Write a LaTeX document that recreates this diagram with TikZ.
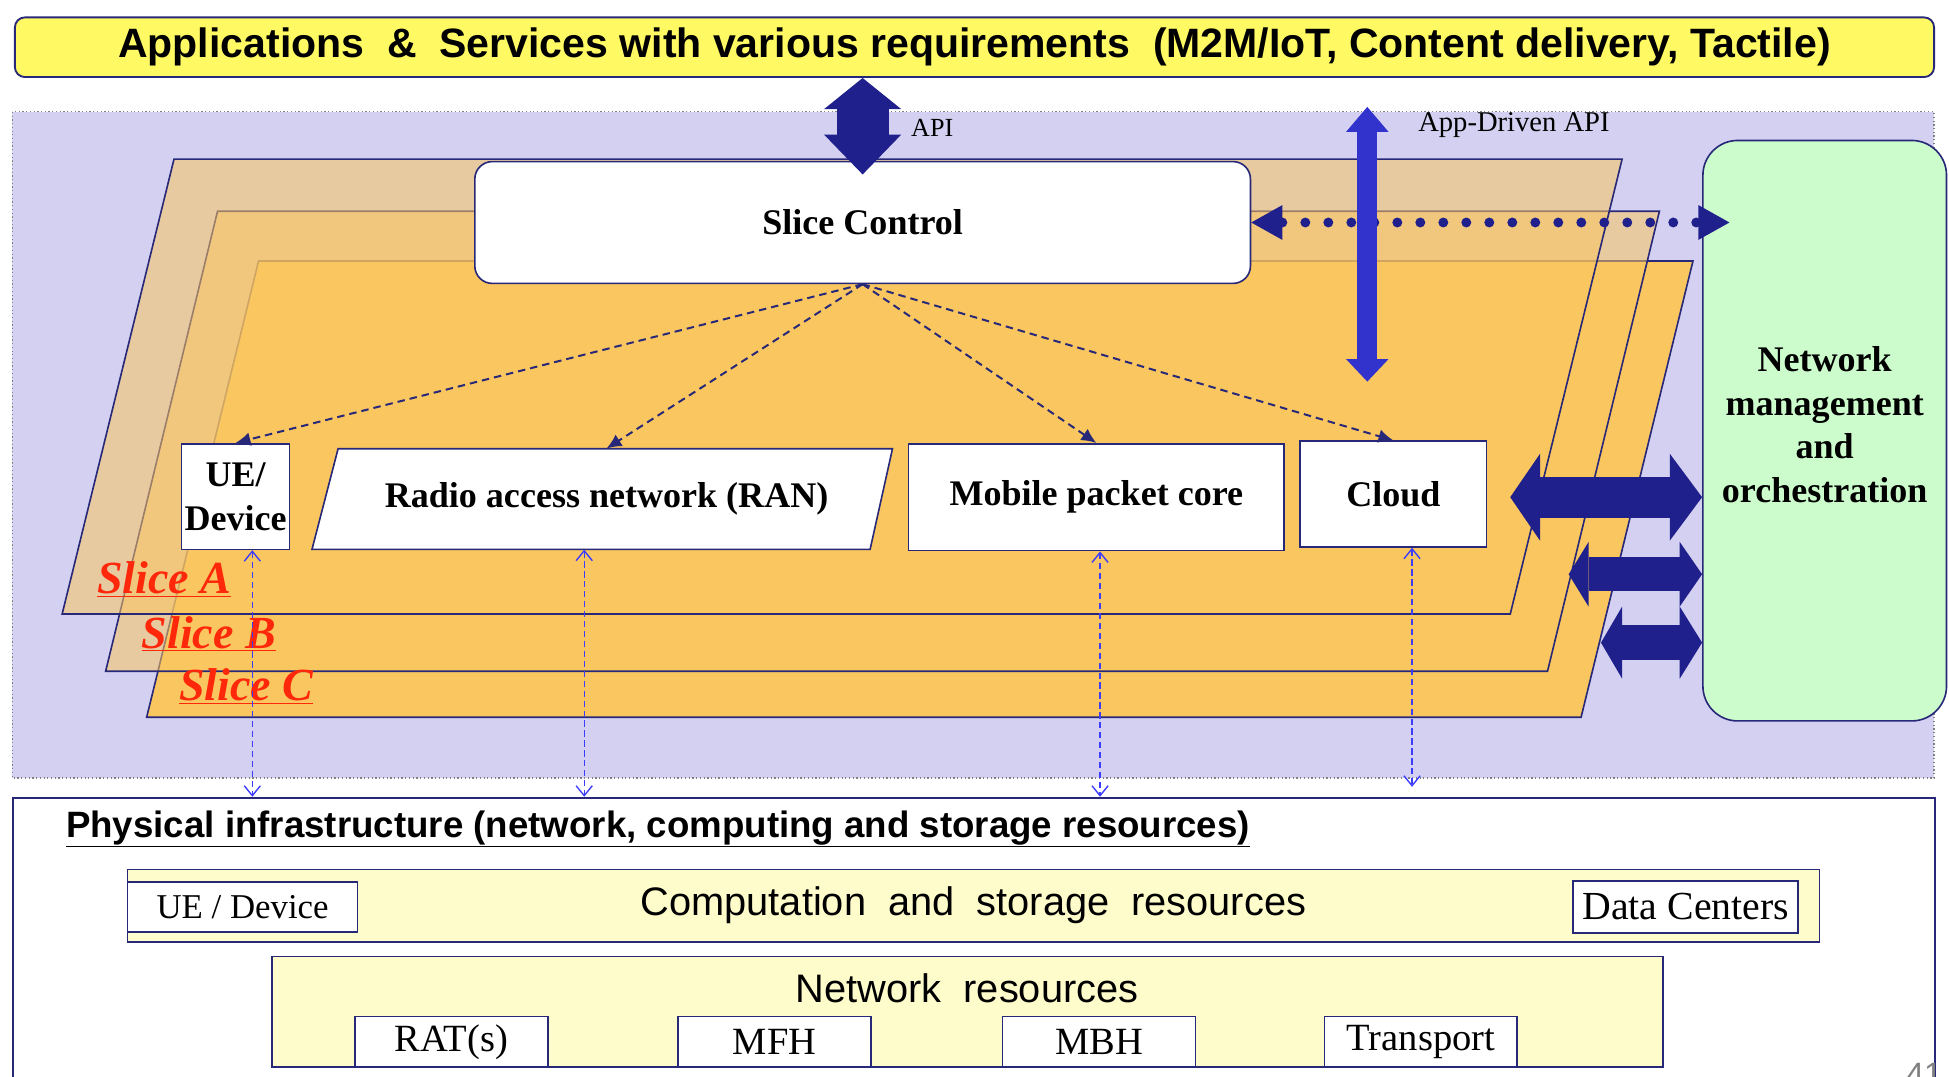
\documentclass[tikz,border=0pt]{standalone}
\usepackage{fontspec}
\setmainfont{Liberation Serif}
\setsansfont{Liberation Sans}
\usetikzlibrary{arrows.meta,positioning}

\definecolor{appyellow}{RGB}{255,250,100}
\definecolor{lavender}{RGB}{211,208,241}
\definecolor{sliceorange}{RGB}{250,198,96}
\definecolor{nmogreen}{RGB}{204,252,204}
\definecolor{paleyellow}{RGB}{255,252,204}
\definecolor{linenavy}{RGB}{40,40,120}
\definecolor{arrownavy}{RGB}{32,32,140}
\definecolor{appblue}{RGB}{50,50,204}
\definecolor{physblue}{RGB}{60,60,255}
\definecolor{slicered}{RGB}{255,40,10}

\begin{document}
\begin{tikzpicture}[x=1pt, y=-1pt,
    box/.style={draw=linenavy, line width=1.3pt, fill=white, inner sep=0pt, align=center},
    bold/.style={font=\fontsize{29}{35}\selectfont\bfseries},
    slice/.style={draw=linenavy, line width=1.3pt, fill=sliceorange},
    slicename/.style={text=slicered, font=\fontsize{37}{40}\selectfont\bfseries\itshape},
    fan/.style={draw=linenavy, line width=1.6pt, dash pattern=on 6pt off 4pt, -{Latex[length=12pt, width=11pt]}},
    phy/.style={draw=physblue, line width=1.1pt, dash pattern=on 5pt off 3pt,
      {Straight Barb[length=8pt, width=13pt]}-{Straight Barb[length=8pt, width=13pt]}},
    fat/.style={draw=arrownavy, line width=#1},
    hw/.style={box, minimum width=155pt, minimum height=41pt, anchor=north west, font=\fontsize{31}{36}\selectfont}
  ]

    \def \slant {90}
    \useasboundingbox (0,0) rectangle (1568,866);

    % top layer
    \node[draw=linenavy, line width=1.5pt, fill=appyellow, rounded corners=8pt, inner sep=0pt,
      minimum width=1544pt, minimum height=48pt, font=\sffamily\bfseries\fontsize{33}{36}\selectfont]
      (apps) at (784,38) {Applications \ \& \ Services with various requirements \ (M2M/IoT, Content delivery, Tactile)};

    % background of the slice area
    \draw[fill=lavender, draw=gray, dotted, line width=1pt] (10,90) rectangle (1556,626);

    % draw the slices, back to front
    \foreach \ya/\yb/\xa/\wd/\op in {210/577/208/1154/1, 170/540/175/1160/0.55, 128/494/140/1165/0.55}
      \filldraw[slice, fill opacity=\op] (\xa,\ya) -- ++(\wd,0) -- ++(-\slant,{\yb-\ya}) -- ++(-\wd,0) -- cycle;
    \node[slicename] (nameA) at (132,466) {\underline{Slice A}};
    \node[slicename] (nameB) at (168,510) {\underline{Slice B}};
    \node[slicename] (nameC) at (198,552) {\underline{Slice C}};

    % control and management
    \node[box, bold, rounded corners=14pt, minimum width=624pt, minimum height=98pt] (ctrl) at (694,179) {Slice Control};
    \node[box, bold, fill=nmogreen, rounded corners=28pt, minimum width=196pt, minimum height=467pt,
      text depth=10pt] (nmo) at (1468,346.5) {Network\\management\\and\\orchestration};

    % slice components
    \node[box, bold, minimum width=87pt, minimum height=85pt] (ue) at (189.5,399.5) {UE/\\Device};
    \filldraw[box] (272,361) -- (718,361) -- (700,442) -- (251,442) -- cycle;
    \node[bold, inner sep=0pt, minimum width=446pt, minimum height=81pt] (ran) at (488,401.5) {Radio access network (RAN)};
    \node[box, bold, minimum width=302pt, minimum height=86pt] (mpc) at (882,400) {Mobile packet core};
    \node[box, bold, minimum width=150pt, minimum height=85pt] (cloud) at (1121,397.5) {Cloud};

    \foreach \nd in {ue, ran, mpc, cloud}
      \draw[fan] (ctrl.south) -- (\nd.north);

    % interfaces
    \draw[fat=42pt, {Triangle[length=25pt, width=62pt, line width=0pt]}-{Triangle[length=32pt, width=62pt, line width=0pt]},
      shorten >=-11pt] (ctrl.north |- apps.south) -- (ctrl.north);
    \node[font=\fontsize{21}{24}\selectfont] (api) at (750,103) {API};

    \draw[draw=arrownavy, line width=8pt, line cap=round, dash pattern=on 0pt off 18.5pt,
      {Triangle[length=25pt, width=28pt, line width=0pt]}-{Triangle[length=25pt, width=28pt, line width=0pt]},
      shorten >=-22pt] (ctrl.east) -- (ctrl.east -| nmo.west);

    \coordinate (apptop) at (1100,86);
    \coordinate (appbot) at (1100,307);
    \draw[draw=appblue, line width=16pt, {Triangle[length=20pt, width=34pt, line width=0pt]}-{Triangle[length=18pt, width=34pt, line width=0pt]}]
      (apptop) -- (appbot);
    \node[font=\fontsize{23}{26}\selectfont] (appapi) at (1218,101) {App-Driven API};

    \coordinate (tipA) at (1215,400);
    \coordinate (tipB) at (1262,462);
    \coordinate (tipC) at (1288,517);
    \draw[fat=33pt, {Triangle[length=24pt, width=70pt, line width=0pt]}-{Triangle[length=26pt, width=70pt, line width=0pt]}]
      (tipA) -- (tipA -| nmo.west);
    \draw[fat=27pt, {Triangle[length=16pt, width=52pt, line width=0pt]}-{Triangle[length=18pt, width=52pt, line width=0pt]}]
      (tipB) -- (tipB -| nmo.west);
    \draw[fat=28pt, {Triangle[length=17pt, width=58pt, line width=0pt]}-{Triangle[length=18pt, width=58pt, line width=0pt]}]
      (tipC) -- (tipC -| nmo.west);

    % physical infrastructure
    \node[draw=linenavy, line width=1.5pt, fill=white, minimum width=1546pt, minimum height=300pt, anchor=north west]
      (phys) at (10,641) {};
    \node[anchor=west, inner sep=0pt, font=\sffamily\bfseries\fontsize{29.5}{34}\selectfont] (physname) at (53,667)
      {\underline{Physical infrastructure (network, computing and storage resources)}};
    \node[box, fill=paleyellow, minimum width=1361pt, minimum height=58pt, anchor=north west,
      font=\sffamily\fontsize{32}{36}\selectfont] (comp) at (102,699) {Computation \ and \ storage \ resources};
    \node[box, minimum width=185pt, minimum height=40pt, anchor=north west, font=\fontsize{28}{32}\selectfont]
      (devhw) at (102,709) {UE / Device};
    \node[box, minimum width=181pt, minimum height=42pt, anchor=north west, font=\fontsize{32}{36}\selectfont]
      (dc) at (1265,708) {Data Centers};
    \node[box, fill=paleyellow, minimum width=1119pt, minimum height=89pt, anchor=north west] (net) at (218,769) {};
    \node[font=\sffamily\fontsize{32}{36}\selectfont] (netname) at (778,795) {Network \ resources};
    \foreach \nm/\x/\txt in {rat/285/RAT(s), mfh/545/MFH, mbh/806/MBH, trans/1065/Transport}
      \node[hw] (\nm) at (\x,817) {\txt};
    \node[text=gray, anchor=north, font=\sffamily\fontsize{26}{30}\selectfont] (page) at (1548,852) {41};

    % slices mapped onto the infrastructure
    \foreach \nd/\xx/\gap in {ue/203/0, ran/470/0, mpc/885/0, cloud/1136/8}
      \draw[phy, shorten >=\gap] (\xx,0 |- \nd.south) -- (\xx,0 |- phys.north);

\end{tikzpicture}
\end{document}
